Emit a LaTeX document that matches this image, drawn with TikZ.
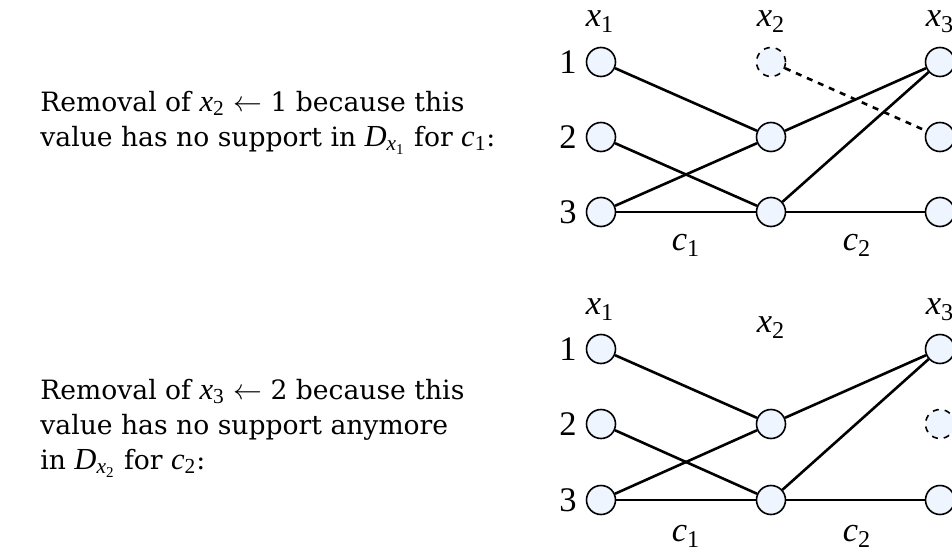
\documentclass[tikz,border=0pt]{standalone}
\usepackage{amsmath,amssymb}
\usepackage{fontspec}
\setmainfont{DejaVu Serif}
\newfontfamily\tmfont[Scale=1.15]{Liberation Serif}
\usepackage{xcolor}
\usepackage{tikz}
\usetikzlibrary{arrows.meta,positioning}

\definecolor{valfill}{HTML}{EEF5FF}
\newcommand{\vv}[2]{{\tmfont\itshape #1}\textsubscript{\tmfont #2}}

\begin{document}
\begin{tikzpicture}[
  x=0.5pt,y=-0.5pt,
  font=\tmfont\fontsize{15}{18}\selectfont,
  val/.style={circle,draw,line width=0.8pt,fill=valfill,minimum size=14.5pt,inner sep=0pt},
  gone/.style={val,dashed},
  edge/.style={line width=1.3pt},
  txt/.style={align=left,anchor=west,inner sep=0pt,font=\rmfamily\fontsize{13.3}{17.5}\selectfont}
]
\useasboundingbox (0,0) rectangle (952,551);

% top: removal of x2 <- 1
\node[txt] (ttxt) at (40,123) {Removal of \vv{x}{2} $\leftarrow$ 1 because this\\value has no support in \vv{D}{\vv{x}{1}} for \vv{c}{1}:};
\node (tx1) at (600,22) {\vv{x}{1}};
\node (tx2) at (771,22) {\vv{x}{2}};
\node (tx3) at (940,22) {\vv{x}{3}};
\node[val] (t11) at (601,62) {};
\node[val] (t12) at (601,137) {};
\node[val] (t13) at (601,212) {};
\node[gone] (t21) at (771,62) {};
\node[val] (t22) at (771,137) {};
\node[val] (t23) at (771,212) {};
\node[val] (t31) at (940,62) {};
\node[val] (t32) at (940,137) {};
\node[val] (t33) at (940,212) {};
\node[left=1pt of t11] (tn1) {1};
\node[left=1pt of t12] (tn2) {2};
\node[left=1pt of t13] (tn3) {3};
\node (tc1) at (686,245) {\vv{c}{1}};
\node (tc2) at (857,245) {\vv{c}{2}};
\draw[edge] (t11) -- (t22);
\draw[edge] (t12) -- (t23);
\draw[edge] (t13) -- (t22);
\draw[edge] (t13) -- (t23);
\draw[edge] (t22) -- (t31);
\draw[edge] (t23) -- (t31);
\draw[edge] (t23) -- (t33);
\draw[edge,dashed] (t21) -- (t32);

% bottom: removal of x3 <- 2
\node[txt] (btxt) at (40,428) {Removal of \vv{x}{3} $\leftarrow$ 2 because this\\value has no support anymore\\in \vv{D}{\vv{x}{2}} for \vv{c}{2}:};
\node (bx1) at (600,310) {\vv{x}{1}};
\node (bx2) at (771,328) {\vv{x}{2}};
\node (bx3) at (940,310) {\vv{x}{3}};
\node[val] (b11) at (601,349) {};
\node[val] (b12) at (601,424) {};
\node[val] (b13) at (601,500) {};
\node[val] (b22) at (771,424) {};
\node[val] (b23) at (771,500) {};
\node[val] (b31) at (940,349) {};
\node[gone] (b32) at (940,424) {};
\node[val] (b33) at (940,500) {};
\node[left=1pt of b11] (bn1) {1};
\node[left=1pt of b12] (bn2) {2};
\node[left=1pt of b13] (bn3) {3};
\node (bc1) at (686,536) {\vv{c}{1}};
\node (bc2) at (857,536) {\vv{c}{2}};
\draw[edge] (b11) -- (b22);
\draw[edge] (b12) -- (b23);
\draw[edge] (b13) -- (b22);
\draw[edge] (b13) -- (b23);
\draw[edge] (b22) -- (b31);
\draw[edge] (b23) -- (b31);
\draw[edge] (b23) -- (b33);
\end{tikzpicture}
\end{document}
